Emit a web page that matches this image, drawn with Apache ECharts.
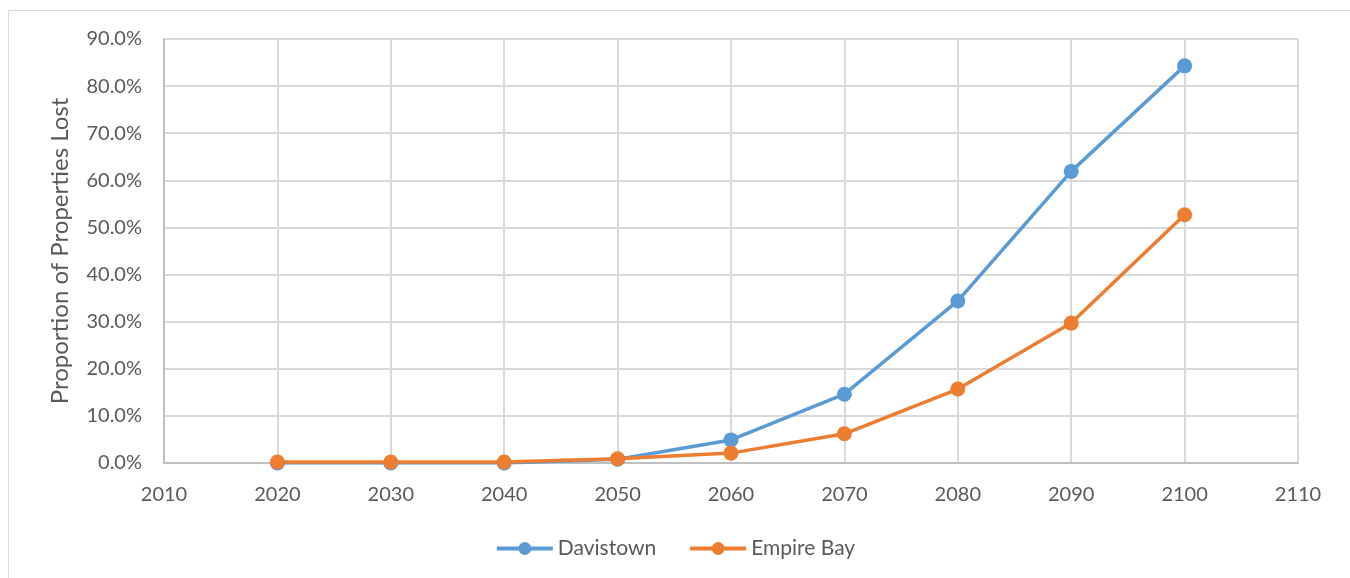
<!DOCTYPE html>
<html>
<head>
<meta charset="utf-8">
<script src="https://cdn.jsdelivr.net/npm/echarts@6/dist/echarts.min.js"></script>
<style>
  html, body { margin: 0; padding: 0; background: #fff; }
  #chart { width: 1350px; height: 578px; }
</style>
</head>
<body>
<div id="chart"></div>
<script>
// Projected share of properties lost per decade
const years = [2020, 2030, 2040, 2050, 2060, 2070, 2080, 2090, 2100];
const davistown = [0.000, 0.000, 0.000, 0.008, 0.049, 0.146, 0.344, 0.619, 0.843];
const empireBay = [0.002, 0.002, 0.002, 0.009, 0.021, 0.062, 0.157, 0.297, 0.527];
const seriesNames = ['Davistown', 'Empire Bay'];
const seriesColors = ['#5b9bd5', '#ed7d31'];

const font = 'Lato, "Open Sans", sans-serif';
const textColor = '#595959';

const pairs = (xs, ys) => xs.map((x, i) => [x, ys[i]]);

const chart = echarts.init(document.getElementById('chart'));
chart.setOption({
  animation: false,
  backgroundColor: '#ffffff',
  graphic: [{
    type: 'rect',
    shape: { x: 8.5, y: 10.5, width: 1400, height: 700 },
    style: { fill: 'none', stroke: '#d9d9d9', lineWidth: 1 },
    silent: true
  }],
  grid: { left: 164, right: 52, top: 39, bottom: 115 },
  legend: {
    bottom: 14,
    left: 'center',
    itemWidth: 56,
    itemHeight: 16,
    itemGap: 32,
    lineStyle: { width: 4 },
    textStyle: { color: textColor, fontSize: 21, fontFamily: font },
    data: seriesNames
  },
  xAxis: {
    type: 'value',
    min: 2010,
    max: 2110,
    interval: 10,
    axisLine: { show: true, lineStyle: { color: '#bfbfbf', width: 2 } },
    axisTick: { show: false },
    axisLabel: {
      color: textColor, fontSize: 20, fontFamily: font, margin: 22,
      formatter: v => String(v)
    },
    splitLine: { show: true, lineStyle: { color: '#d9d9d9', width: 2 } }
  },
  yAxis: {
    type: 'value',
    min: 0,
    max: 0.9,
    interval: 0.1,
    name: 'Proportion of Properties Lost',
    nameLocation: 'middle',
    nameGap: 92,
    nameTextStyle: { color: textColor, fontSize: 24, fontFamily: font },
    axisLine: { show: true, lineStyle: { color: '#bfbfbf', width: 2 } },
    axisTick: { show: false },
    axisLabel: {
      color: textColor, fontSize: 20, fontFamily: font, margin: 22,
      formatter: v => (v * 100).toFixed(1) + '%'
    },
    splitLine: { show: true, lineStyle: { color: '#d9d9d9', width: 2 } }
  },
  series: [
    {
      name: seriesNames[0],
      type: 'line',
      data: pairs(years, davistown),
      color: seriesColors[0],
      symbol: 'circle',
      symbolSize: 15,
      lineStyle: { width: 3.5 }
    },
    {
      name: seriesNames[1],
      type: 'line',
      data: pairs(years, empireBay),
      color: seriesColors[1],
      symbol: 'circle',
      symbolSize: 15,
      lineStyle: { width: 3.5 }
    }
  ]
});
</script>
</body>
</html>
